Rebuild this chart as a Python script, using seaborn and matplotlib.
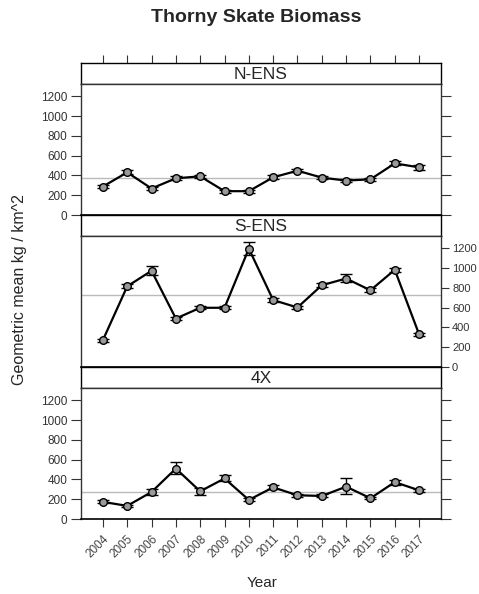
import numpy as np
import pandas as pd
import matplotlib
matplotlib.use("Agg")
import matplotlib.pyplot as plt
import seaborn as sns

years = list(range(2004, 2018))

# geometric mean biomass per stratum
n_ens = [288, 431, 268, 371, 391, 241, 241, 381, 448, 378, 348, 361, 522, 482]
n_ens_lo = [15, 20, 15, 20, 15, 15, 15, 20, 15, 15, 15, 15, 20, 25]
n_ens_hi = [15, 20, 15, 20, 15, 15, 15, 20, 15, 15, 15, 15, 20, 25]

s_ens = [272, 816, 973, 490, 599, 599, 1197, 677, 602, 827, 895, 776, 983, 330]
s_ens_lo = [15, 20, 40, 15, 15, 15, 60, 20, 15, 20, 35, 20, 20, 15]
s_ens_hi = [15, 20, 45, 15, 15, 15, 68, 20, 15, 20, 45, 20, 20, 15]

x4 = [173, 133, 273, 510, 280, 410, 193, 320, 240, 233, 327, 210, 373, 290]
x4_lo = [15, 12, 27, 50, 40, 28, 15, 20, 15, 15, 77, 12, 25, 15]
x4_hi = [15, 12, 27, 63, 37, 30, 15, 20, 15, 15, 85, 12, 25, 15]

panels = ["N-ENS", "S-ENS", "4X"]
ref_lines = [379, 728, 273]

df = pd.DataFrame({
    "Year": years * 3,
    "Biomass": n_ens + s_ens + x4,
    "lo": n_ens_lo + s_ens_lo + x4_lo,
    "hi": n_ens_hi + s_ens_hi + x4_hi,
    "Area": [p for p in panels for _ in years],
})

sns.set_style("white")
plt.rcParams['font.family'] = ['Liberation Sans', 'DejaVu Sans']

W, H = 479, 594
fig = plt.figure(figsize=(W / 100, H / 100), dpi=100)

left, right = 81, 441
strip_h, plot_h = 21, 131
tops = [63, 215, 367]
yticks = [0, 200, 400, 600, 800, 1000, 1200]

for i, (name, ref) in enumerate(zip(panels, ref_lines)):
    top = tops[i]
    # strip
    sax = fig.add_axes([left / W, 1 - (top + strip_h) / H, (right - left) / W, strip_h / H])
    sax.set_xticks([])
    sax.set_yticks([])
    sax.text(0.5, 0.45, name, ha='center', va='center', fontsize=12.5, transform=sax.transAxes)
    for s in sax.spines.values():
        s.set_color('black')
        s.set_linewidth(1)
    if i == 0:
        # ticks on the top, no labels
        sax.set_xlim(2003.1, 2017.9)
        sax.set_xticks(years)
        sax.tick_params(axis='x', top=True, bottom=False, labeltop=False, labelbottom=False,
                        direction='out', length=6, width=0.8, color='#333333')

    ax = fig.add_axes([left / W, 1 - (top + strip_h + plot_h) / H, (right - left) / W, plot_h / H])
    d = df[df["Area"] == name]
    ax.axhline(ref, color='#bbbbbb', lw=1, zorder=1)
    ax.errorbar(d["Year"], d["Biomass"], yerr=[d["lo"], d["hi"]], fmt='none',
                ecolor='black', elinewidth=1, capsize=4, capthick=1, zorder=2)
    sns.lineplot(data=d, x="Year", y="Biomass", ax=ax, color='black', lw=1.6,
                 marker='o', markersize=5.5, markerfacecolor='#999999',
                 markeredgecolor='black', markeredgewidth=1, zorder=3)
    ax.set_xlim(2003.1, 2017.9)
    ax.set_ylim(0, 1325)
    ax.set_yticks(yticks)
    ax.set_xlabel("")
    ax.set_ylabel("")
    for s in ax.spines.values():
        s.set_color('#333333')
        s.set_linewidth(1)
    ax.spines['bottom'].set_color('black')
    ax.spines['bottom'].set_linewidth(1.2)

    if i == 1:
        # right side labels, kept inside the figure
        ax.tick_params(axis='y', left=False, right=True, labelleft=False, labelright=True,
                       direction='out', length=6, width=0.8, color='#333333',
                       labelsize=8, labelcolor='#333333', pad=2)
    else:
        ax.tick_params(axis='y', left=True, right=True, labelleft=True, labelright=False,
                       direction='out', length=7, width=0.8, color='#333333',
                       labelsize=8.5, labelcolor='#333333', pad=3)

    if i == 2:
        ax.set_xticks(years)
        ax.set_xticklabels([str(y) for y in years], rotation=45, ha='right',
                           rotation_mode='anchor', fontsize=8.5, color='#444444')
        ax.tick_params(axis='x', bottom=True, direction='out', length=6, width=0.8,
                       color='#333333', pad=4)
    else:
        ax.set_xticks([])

fig.text(0.535, 1 - 17 / H, "Thorny Skate Biomass", ha='center', va='center',
         fontsize=14, fontweight='bold')
fig.text(20 / W, 1 - 290 / H, "Geometric mean kg / km^2", rotation=90,
         ha='center', va='center', fontsize=11.5)
fig.text(262 / W, 1 - 583 / H, "Year", ha='center', va='center', fontsize=11)

plt.savefig("out.png", dpi=100)
